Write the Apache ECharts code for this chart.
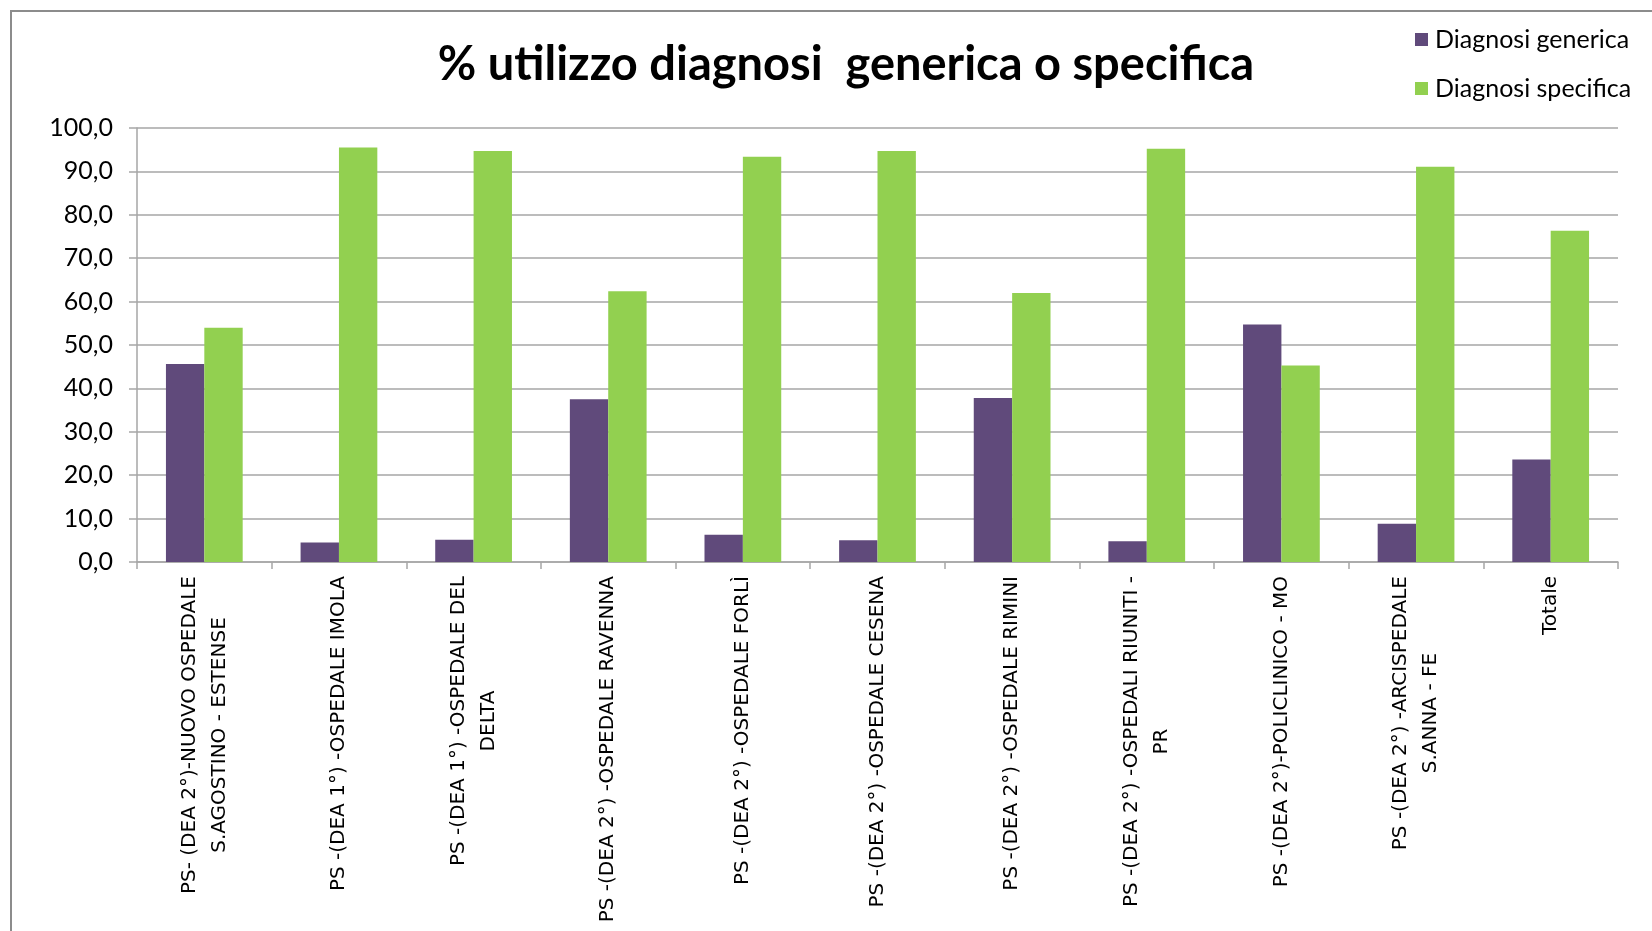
<!DOCTYPE html>
<html>
<head>
<meta charset="utf-8">
<script src="https://cdn.jsdelivr.net/npm/echarts@6/dist/echarts.min.js"></script>
<style>
html,body{margin:0;padding:0;background:#fff;}
#chart{width:1652px;height:931px;}
</style>
</head>
<body>
<div id="chart"></div>
<script>
const categories = [
  "PS- (DEA 2°)-NUOVO OSPEDALE\nS.AGOSTINO - ESTENSE",
  "PS -(DEA 1°) -OSPEDALE IMOLA",
  "PS -(DEA 1°) -OSPEDALE DEL\nDELTA",
  "PS -(DEA 2°) -OSPEDALE RAVENNA",
  "PS -(DEA 2°) -OSPEDALE FORLÌ",
  "PS -(DEA 2°) -OSPEDALE CESENA",
  "PS -(DEA 2°) -OSPEDALE RIMINI",
  "PS -(DEA 2°) -OSPEDALI RIUNITI -\nPR",
  "PS -(DEA 2°)-POLICLINICO - MO",
  "PS -(DEA 2°) -ARCISPEDALE\nS.ANNA - FE",
  "Totale"
];
const seriesNames = ["Diagnosi generica", "Diagnosi specifica"];
const genericaValues = [45.6, 4.5, 5.1, 37.5, 6.3, 5.0, 37.8, 4.8, 54.7, 8.8, 23.6];
const specificaValues = [54.0, 95.5, 94.7, 62.4, 93.4, 94.7, 62.0, 95.2, 45.3, 91.1, 76.3];
const yTicks = [0, 10, 20, 30, 40, 50, 60, 70, 80, 90, 100];
const titleText = "% utilizzo diagnosi  generica o specifica";

const chart = echarts.init(document.getElementById('chart'));
const gridColor = '#a6a6a6';
const option = {
  backgroundColor: '#ffffff',
  animation: false,
  title: {
    text: titleText,
    left: 841,
    top: 36,
    textAlign: 'center',
    textStyle: {
      fontFamily: "Lato, sans-serif",
      fontWeight: 'bold',
      fontSize: 47,
      color: '#000'
    }
  },
  legend: {
    orient: 'vertical',
    left: 1410,
    top: 22,
    itemWidth: 13,
    itemHeight: 13,
    itemGap: 24,
    icon: 'rect',
    textStyle: { fontFamily: 'Lato, sans-serif', fontSize: 25, color: '#000', padding: [0,0,0,2] },
    data: seriesNames
  },
  grid: { left: 137, right: 34, top: 128, bottom: 369, containLabel: false },
  xAxis: {
    type: 'category',
    data: categories,
    axisLine: { lineStyle: { color: gridColor, width: 1.5 } },
    axisTick: { show: true, length: 7, lineStyle: { color: gridColor, width: 1.5 } },
    axisLabel: {
      interval: 0,
      rotate: 90,
      margin: 14,
      formatter: function (v) {
        return v.split('\n').map(function (l) { return '{c|' + l + '}'; }).join('\n');
      },
      rich: {
        c: { align: 'center', fontFamily: "'DejaVu Sans', sans-serif", fontSize: 20, lineHeight: 30, color: '#000' }
      }
    }
  },
  yAxis: {
    type: 'value',
    min: 0,
    max: 100,
    interval: 10,
    axisLine: { show: true, lineStyle: { color: gridColor, width: 1.5 } },
    axisTick: { show: true, length: 8, lineStyle: { color: gridColor, width: 1.5 } },
    splitLine: { show: true, lineStyle: { color: gridColor, width: 1.5 } },
    axisLabel: {
      margin: 24,
      fontFamily: 'Lato, sans-serif',
      fontSize: 25,
      color: '#000',
      customValues: yTicks,
      formatter: function (v) { return v.toFixed(1).replace('.', ','); }
    }
  },
  series: [
    {
      name: seriesNames[0], type: 'bar', data: genericaValues,
      barGap: '0%', barCategoryGap: '43%',
      itemStyle: { color: '#604a7b' }
    },
    {
      name: seriesNames[1], type: 'bar', data: specificaValues,
      barGap: '0%', barCategoryGap: '43%',
      itemStyle: { color: '#92d050' }
    }
  ],
  graphic: [
    {
      type: 'rect',
      shape: { x: 11, y: 11, width: 1700, height: 1000 },
      style: { fill: 'none', stroke: '#8c8c8c', lineWidth: 2 },
      silent: true
    }
  ]
};
chart.setOption(option);
</script>
</body>
</html>
